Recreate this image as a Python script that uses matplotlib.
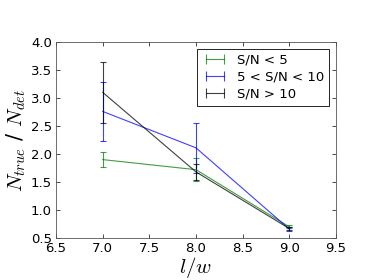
import matplotlib
matplotlib.use("Agg")
import matplotlib.pyplot as plt
from matplotlib.lines import Line2D

plt.rcParams['mathtext.fontset'] = 'cm'
plt.rcParams['font.family'] = ['DejaVu Sans']

x = [7.0, 8.0, 9.0]
labels = ["S/N < 5", "5 < S/N < 10", "S/N > 10"]
colors = ["#008000", "#0000ff", "#000000"]
low_y = [1.90, 1.72, 0.70]
low_err = [0.13, 0.20, 0.03]
mid_y = [2.76, 2.11, 0.66]
mid_err = [0.53, 0.45, 0.03]
high_y = [3.10, 1.68, 0.67]
high_err = [0.55, 0.14, 0.03]

fig = plt.figure(figsize=(3.74, 2.80), dpi=100)
ax = fig.add_axes([0.150, 0.15, 0.748, 0.70])

handles = []
for yv, ev, lab, c in zip([low_y, mid_y, high_y], [low_err, mid_err, high_err], labels, colors):
    ax.errorbar(x, yv, yerr=ev, color=c, lw=0.8, elinewidth=0.8, capsize=2.5,
                capthick=0.8, alpha=0.75)
    handles.append(Line2D([], [], color=c, lw=0.8, alpha=0.75, marker='|',
                          markersize=7, markeredgewidth=0.8, label=lab))

ax.set_xlim(6.5, 9.5)
ax.set_ylim(0.5, 4.0)
ax.set_xticks([6.5, 7.0, 7.5, 8.0, 8.5, 9.0, 9.5])
ax.set_yticks([0.5, 1.0, 1.5, 2.0, 2.5, 3.0, 3.5, 4.0])
ax.tick_params(direction='in', top=True, right=True, labelsize=9.5, length=3, width=0.5, pad=3)
for s in ax.spines.values():
    s.set_linewidth(0.6)
    s.set_color('#555555')

ax.set_xlabel(r"$l/w$", fontsize=15, labelpad=0)
ax.set_ylabel(r"$N_{true}$ / $N_{det}$", fontsize=15, labelpad=2)

leg = ax.legend(handles=handles, loc='upper right', fontsize=9.5, fancybox=False, framealpha=1,
                edgecolor='black', borderaxespad=0.5, handlelength=1.9, numpoints=2,
                labelspacing=0.3, borderpad=0.4, handletextpad=0.7)
leg.get_frame().set_linewidth(0.6)

fig.savefig("out.png", dpi=100)
